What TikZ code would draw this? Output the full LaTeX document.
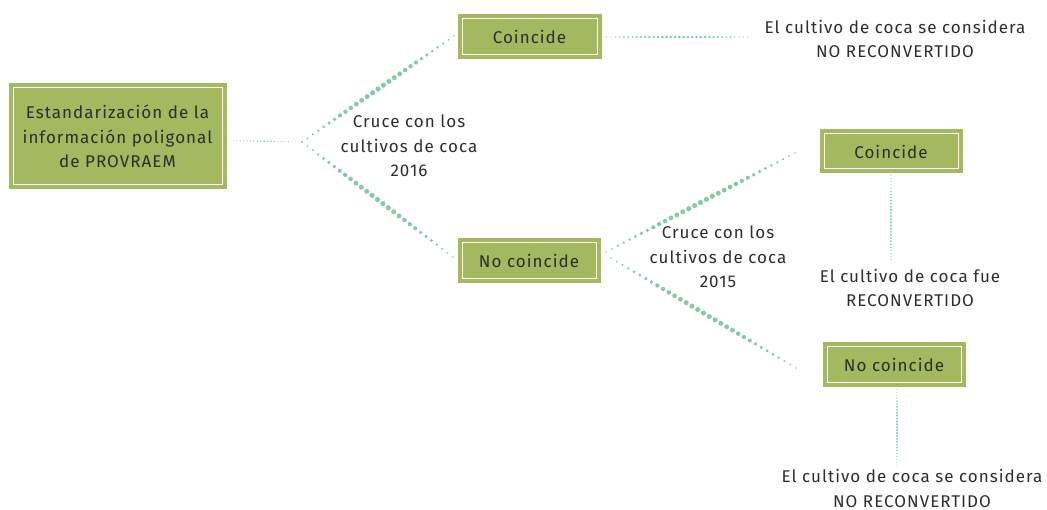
\documentclass[tikz,border=0pt]{standalone}
\usepackage{fontspec}
\setmainfont{Fira Sans}[LetterSpace=6]
\usetikzlibrary{calc}
\definecolor{boxg}{RGB}{163,184,95}
\definecolor{dotc}{RGB}{134,203,168}
\definecolor{txt}{RGB}{45,45,45}
\newcommand\dotline[4]{%
  \foreach \i in {0,...,#3}{%
    \pgfmathsetmacro\dtt{\i/#3}%
    \fill[dotc] ($(#1)!\dtt!(#2)$) circle[radius={#4*(0.3+0.7*sin(180*\dtt))}];}}
\begin{document}
\begin{tikzpicture}[x=1pt,y=-1pt,
  gbox/.style={rectangle, fill=boxg, draw=white, line width=1pt,
    preaction={draw=boxg, line width=9pt},
    text=txt, font=\fontsize{17}{24.5}\selectfont, align=center, inner sep=0pt},
  lbl/.style={text=txt, font=\fontsize{17}{24.5}\selectfont, align=center, inner sep=0pt}]
\useasboundingbox (0,0) rectangle (1047,510);
% boxes
\node[gbox, minimum width=209pt, minimum height=97pt] (main) at (117.5,136.5)
  {Estandarización de la\\información poligonal\\de PROVRAEM};
\node[gbox, minimum width=135pt, minimum height=36pt] (tc) at (529.5,37) {Coincide};
\node[gbox, minimum width=134pt, minimum height=36pt] (mn) at (529,261) {No coincide};
\node[gbox, minimum width=134pt, minimum height=35pt] (rc) at (891,151.5) {Coincide};
\node[gbox, minimum width=134pt, minimum height=36pt] (rn) at (894,365) {No coincide};
% labels
\node[lbl] (c16) at (409,146) {Cruce con los\\cultivos de coca\\2016};
\node[lbl] (c15) at (718,257) {Cruce con los\\cultivos de coca\\2015};
\node[lbl] (r1) at (895,39) {El cultivo de coca se considera\\NO RECONVERTIDO};
\node[lbl] (r2) at (910,288) {El cultivo de coca fue\\RECONVERTIDO};
\node[lbl] (r3) at (912,488.5) {El cultivo de coca se considera\\NO RECONVERTIDO};
% connector points
\coordinate (ms) at ($(main.east)+(4,4)$);
\coordinate (j1) at (302,142);
\coordinate (t1) at (454,36);
\coordinate (b1) at (453,257);
\coordinate (te) at ($(tc.east)+(5,0)$);
\coordinate (tr) at (752,37);
\coordinate (j2) at (606,252);
\coordinate (t2) at (795,153);
\coordinate (j3) at (611,258);
\coordinate (b2) at (796,368);
\coordinate (rcs) at ($(rc.south)+(0,3)$);
\coordinate (v1) at (891,266);
\coordinate (rns) at ($(rn.south)+(3,3)$);
\coordinate (v2) at (897,468);
% connectors
\dotline{ms}{j1}{22}{0.8}
\dotline{j1}{t1}{28}{2.6}
\dotline{j1}{b1}{28}{2.6}
\dotline{te}{tr}{35}{1.5}
\dotline{j2}{t2}{32}{2.6}
\dotline{j3}{b2}{32}{2.6}
\dotline{rcs}{v1}{30}{1.2}
\dotline{rns}{v2}{28}{1.2}
\end{tikzpicture}
\end{document}
